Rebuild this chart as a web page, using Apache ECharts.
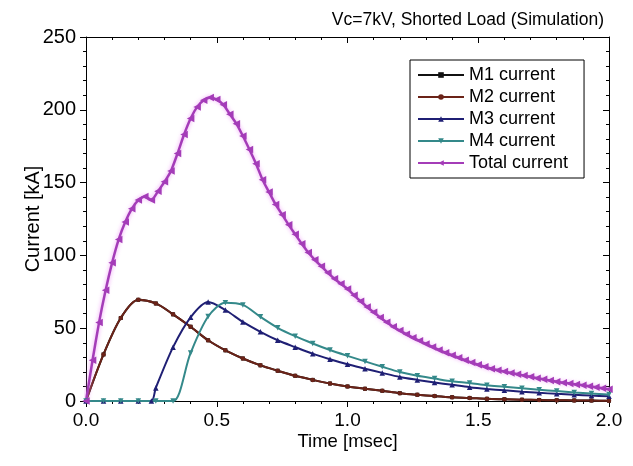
<!DOCTYPE html>
<html>
<head>
<meta charset="utf-8">
<script src="https://cdn.jsdelivr.net/npm/echarts@6/dist/echarts.min.js"></script>
<style>
  html, body { margin: 0; padding: 0; background: #fff; }
  #chart { width: 633px; height: 466px; }
</style>
</head>
<body>
<div id="chart"></div>
<script>
// time grid of the switch currents (msec)
var tM = [0, 0.067, 0.133, 0.2, 0.267, 0.333, 0.4, 0.467, 0.533, 0.6, 0.667, 0.733, 0.8, 0.867, 0.933, 1.0,
          1.067, 1.133, 1.2, 1.267, 1.333, 1.4, 1.467, 1.533, 1.6, 1.667, 1.733, 1.8, 1.867, 1.933, 2.0];
// M3 needs its switch-on instant
var tM3 = [0, 0.067, 0.133, 0.2, 0.25, 0.267, 0.333, 0.4, 0.467, 0.533, 0.6, 0.667, 0.733, 0.8, 0.867, 0.933, 1.0,
           1.067, 1.133, 1.2, 1.267, 1.333, 1.4, 1.467, 1.533, 1.6, 1.667, 1.733, 1.8, 1.867, 1.933, 2.0];
// time grid of the total current (msec)
var tTotal = [0, 0.025, 0.05, 0.075, 0.1, 0.125, 0.15, 0.175, 0.2, 0.225, 0.25, 0.275, 0.3, 0.325, 0.35, 0.375,
              0.4, 0.425, 0.45, 0.475, 0.5, 0.525, 0.55, 0.575, 0.6, 0.625, 0.65, 0.675, 0.7, 0.725, 0.75, 0.775,
              0.8, 0.825, 0.85, 0.875, 0.9, 0.925, 0.95, 0.975, 1.0, 1.025, 1.05, 1.075, 1.1, 1.125, 1.15, 1.175,
              1.2, 1.225, 1.25, 1.275, 1.3, 1.325, 1.35, 1.375, 1.4, 1.425, 1.45, 1.475, 1.5, 1.525, 1.55, 1.575,
              1.6, 1.625, 1.65, 1.675, 1.7, 1.725, 1.75, 1.775, 1.8, 1.825, 1.85, 1.875, 1.9, 1.925, 1.95, 1.975, 2.0];

// currents in kA (M1 sits right under M2)
var m1 = [0, 32, 57, 69.5, 67, 59.5, 51, 41.7, 34.8, 29.2, 24.5, 20.8, 17.3, 14.5, 12, 10,
          8.4, 7, 5.4, 4.3, 3.4, 2.6, 2.1, 1.5, 1.2, 0.9, 0.7, 0.5, 0.4, 0.3, 0.2];
var m2 = [0, 32, 57, 69.5, 67, 59.5, 51, 41.7, 34.8, 29.2, 24.5, 20.8, 17.3, 14.5, 12, 10,
          8.4, 7, 5.4, 4.3, 3.4, 2.6, 2.1, 1.5, 1.2, 0.9, 0.7, 0.5, 0.4, 0.3, 0.2];
var m3 = [0, 0, 0, 0, 0, 9, 37, 57.5, 68, 62.5, 54.3, 47.5, 41.7, 37, 32.5, 28.7, 25.2,
          22.2, 19.3, 16.5, 14.5, 12.7, 11.1, 9.5, 8.3, 7.3, 6.4, 5.6, 4.9, 4.3, 3.7, 3.2];
var m4 = [0, 0, 0, 0, 0, 0, 33, 58, 67.5, 66, 57.8, 50.3, 44.5, 39.5, 35, 31,
          27.2, 23.5, 19.9, 17.3, 15.4, 13.5, 12.3, 10.8, 9.8, 8.7, 7.7, 6.8, 5.9, 5.1, 4.4];
var total = [0, 28, 54, 76, 95, 111, 123, 132, 138, 140.5, 138, 144, 150.5, 158, 170, 183,
             194, 202, 206.5, 208.5, 207, 203.5, 197, 190.5, 182, 172.7, 163, 152, 143.5, 135, 128, 121,
             114.5, 108, 102, 97, 92.5, 88, 84, 80.5, 77, 72.6, 68.5, 64.6, 60.9, 57.4, 54.1, 51,
             48.4, 45.9, 43.5, 41.3, 39.2, 37.1, 35.1, 33.2, 31.4, 29.7, 28, 26.4, 24.9, 23.5, 22.2, 21.2,
             20.2, 19.3, 18.4, 17.5, 16.6, 15.7, 14.9, 14.1, 13.3, 12.6, 12, 11.4, 10.8, 10.1, 9.4, 8.7, 8.1];

var names = ['M1 current', 'M2 current', 'M3 current', 'M4 current', 'Total current'];
var xTicks = [0, 2, 0.5];
var yTicks = [0, 250, 50];

function pairs(ts, vs) {
  return ts.map(function (t, i) { return [t, vs[i]]; });
}

var font = 'Liberation Sans';
var black = '#000';

function axisPair(dim, range) {
  return [
    {
      type: 'value', min: range[0], max: range[1], interval: range[2],
      position: dim === 'x' ? 'bottom' : 'left',
      axisLine: { show: true, onZero: false, lineStyle: { color: black, width: 1 } },
      axisTick: { show: true, inside: false, length: 6, lineStyle: { color: black } },
      minorTick: { show: true, splitNumber: 5, length: 3, lineStyle: { color: black } },
      splitLine: { show: false },
      axisLabel: {
        color: black, fontSize: dim === 'x' ? 19 : 20, fontFamily: font, margin: 10,
        formatter: dim === 'x' ? function (v) { return v.toFixed(1); } : null
      }
    },
    {
      type: 'value', min: range[0], max: range[1], interval: range[2],
      position: dim === 'x' ? 'top' : 'right',
      axisLine: { show: true, onZero: false, lineStyle: { color: black, width: 1 } },
      axisTick: { show: true, inside: true, length: 6, lineStyle: { color: black } },
      minorTick: { show: true, splitNumber: 5, length: 3, lineStyle: { color: black } },
      splitLine: { show: false },
      axisLabel: { show: false }
    }
  ];
}

var xAxes = axisPair('x', xTicks);
xAxes[0].name = 'Time [msec]';
xAxes[0].nameLocation = 'middle';
xAxes[0].nameGap = 31;
xAxes[0].nameMoveOverlap = false;
xAxes[0].nameTextStyle = { color: black, fontSize: 18.5, fontFamily: font };

var yAxes = axisPair('y', yTicks);
yAxes[0].name = 'Current [kA]';
yAxes[0].nameLocation = 'middle';
yAxes[0].nameGap = 43;
yAxes[0].nameMoveOverlap = false;
yAxes[0].nameTextStyle = { color: black, fontSize: 20, fontFamily: font };

function line(name, data, color, symbol, size, rotate, width, smooth, glow) {
  return {
    name: name, type: 'line', xAxisIndex: 0, yAxisIndex: 0,
    data: data, smooth: smooth,
    symbol: symbol, symbolSize: size, symbolRotate: rotate, showSymbol: true,
    lineStyle: glow ? { color: color, width: width, shadowColor: glow, shadowBlur: 4 }
                    : { color: color, width: width },
    itemStyle: { color: color, borderWidth: 0 },
    emphasis: { disabled: true }
  };
}

var chart = echarts.init(document.getElementById('chart'));
chart.setOption({
  animation: false,
  backgroundColor: '#fff',
  title: {
    text: 'Vc=7kV, Shorted Load (Simulation)',
    right: 24, top: 6,
    textStyle: { color: black, fontSize: 17.5, fontWeight: 'normal', fontFamily: font }
  },
  grid: { left: 86, right: 24, top: 37, bottom: 65 },
  legend: {
    data: names,
    orient: 'vertical',
    left: 410, top: 60,
    padding: [6, 16, 6, 7],
    itemWidth: 46, itemHeight: 7, itemGap: 4,
    backgroundColor: '#fff',
    borderColor: black, borderWidth: 1, borderRadius: 0,
    textStyle: { color: black, fontSize: 18, fontFamily: font, lineHeight: 18 }
  },
  xAxis: xAxes,
  yAxis: yAxes,
  series: [
    line(names[0], pairs(tM, m1), '#111111', 'rect', 4, 0, 2, 0.3),
    line(names[1], pairs(tM, m2), '#6b2318', 'circle', 4.5, 0, 2, 0.3),
    line(names[2], pairs(tM3, m3), '#1f1f74', 'triangle', 5.5, 0, 2, 0.3),
    line(names[3], pairs(tM, m4), '#34898a', 'triangle', 5.5, 180, 2, 0.3),
    line(names[4], pairs(tTotal, total), '#a43cb8', 'triangle', 7.5, 90, 2.5, 0.2, 'rgba(235,130,245,0.8)')
  ]
});
</script>
</body>
</html>
